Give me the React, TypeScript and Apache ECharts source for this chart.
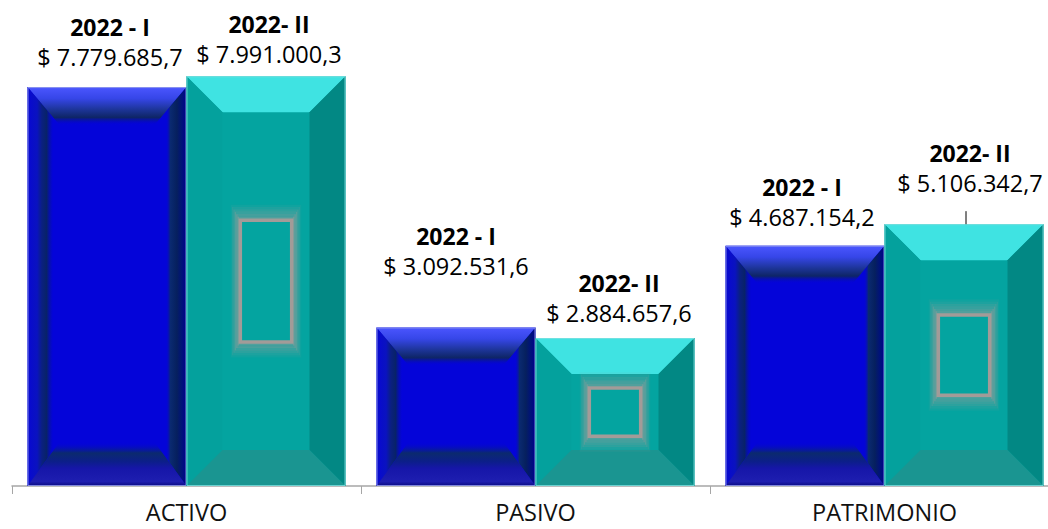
import React, { useEffect, useRef } from "react";
import * as echarts from "echarts";

const categories = ["ACTIVO", "PASIVO", "PATRIMONIO"];
const seriesNames = ["2022 - I", "2022- II"];
const values2022I = [7779685.7, 3092531.6, 4687154.2];
const values2022II = [7991000.3, 2884657.6, 5106342.7];
const yMax = 9000000;

// label placement tweaks (px), per series then per category
const labelDx = [[3, 0, -3], [3, 4, 6]];
const labelDy = [[-30, -61, -29], [-22, -25, -41]];
const leaderLine = [[false, false, false], [false, false, true]];

const FONT = '"Open Sans", "Noto Sans", sans-serif';

function fmt(v: number): string {
  const [intPart, dec] = v.toFixed(1).split(".");
  return "$ " + intPart.replace(/\B(?=(\d{3})+(?!\d))/g, ".") + "," + dec;
}

function lin(x2: number, y2: number, stops: [number, string][]) {
  return new echarts.graphic.LinearGradient(0, 0, x2, y2, stops.map(([offset, color]) => ({ offset, color })));
}

function bevelPolys(x0: number, y0: number, x1: number, y1: number, bS: number, bT: number, bB: number) {
  return {
    top: [[x0, y0], [x1, y0], [x1 - bS, y0 + bT], [x0 + bS, y0 + bT]],
    left: [[x0, y0], [x0 + bS, y0 + bT], [x0 + bS, y1 - bB], [x0, y1]],
    right: [[x1, y0], [x1, y1], [x1 - bS, y1 - bB], [x1 - bS, y0 + bT]],
    bottom: [[x0, y1], [x0 + bS, y1 - bB], [x1 - bS, y1 - bB], [x1, y1]],
  };
}

function blueBar(x0: number, y0: number, x1: number, y1: number): any[] {
  const p = bevelPolys(x0, y0, x1, y1, 32, 38, 44);
  const clear = "rgba(4,4,217,0)";
  return [
    { type: "rect", shape: { x: x0, y: y0, width: x1 - x0, height: y1 - y0 }, style: { fill: "#0404D9" } },
    {
      type: "polygon", shape: { points: p.top },
      style: { fill: lin(0, 1, [[0, "#4B56FF"], [0.3, "#3646E8"], [0.6, "#1C3496"], [0.8, "#0E2566"], [1, clear]]) },
    },
    {
      type: "polygon", shape: { points: p.left },
      style: { fill: lin(1, 0, [[0, "#0808D2"], [0.3, "#0A12C0"], [0.45, "#0A2080"], [0.6, "#082268"], [0.8, "rgba(4,4,217,0.4)"], [1, clear]]) },
    },
    {
      type: "polygon", shape: { points: p.right },
      style: { fill: lin(1, 0, [[0, clear], [0.35, clear], [0.5, "#0A2A70"], [0.7, "#06205E"], [0.85, "#00127A"], [1, "#00008C"]]) },
    },
    {
      type: "polygon", shape: { points: p.bottom },
      style: { fill: lin(0, 1, [[0, clear], [0.25, "#0B2A6E"], [0.45, "#0C1E8A"], [0.6, "#1616A8"], [0.9, "#1E1EB0"], [1, "#0A0A80"]]) },
    },
    {
      type: "rect", shape: { x: x0 + 0.5, y: y0 + 0.5, width: x1 - x0 - 1, height: y1 - y0 - 1 },
      style: { fill: "none", stroke: "rgba(150,160,235,0.85)", lineWidth: 1 },
    },
  ];
}

function tealBar(x0: number, y0: number, x1: number, y1: number): any[] {
  const b = 36;
  const p = bevelPolys(x0, y0, x1, y1, b, b, b);
  const els: any[] = [
    { type: "rect", shape: { x: x0, y: y0, width: x1 - x0, height: y1 - y0 }, style: { fill: "#04A4A0" } },
    { type: "polygon", shape: { points: p.top }, style: { fill: "#3FE3E2" } },
    { type: "polygon", shape: { points: p.left }, style: { fill: "#04A19D" } },
    { type: "polygon", shape: { points: p.right }, style: { fill: "#028884" } },
    { type: "polygon", shape: { points: p.bottom }, style: { fill: "#1A9591" } },
  ];
  const fx0 = x0 + b, fx1 = x1 - b, fy0 = y0 + b, fy1 = y1 - b;
  const fw = fx1 - fx0, fh = fy1 - fy0;
  const rw = 0.28 * fw + 27, rh = 0.28 * fh + 27;
  const cx = (fx0 + fx1) / 2, cy = (fy0 + fy1) / 2;
  for (let i = 6; i >= 1; i--) {
    const ex = i * 1.4, ey = i * 2.4;
    els.push({
      type: "rect",
      shape: { x: cx - rw / 2 - ex, y: cy - rh / 2 - ey, width: rw + 2 * ex, height: rh + 2 * ey },
      style: { fill: "none", stroke: `rgba(168,156,152,${(0.55 * (1 - i / 7)).toFixed(3)})`, lineWidth: 2.6 },
    });
  }
  els.push({
    type: "rect",
    shape: { x: cx - rw / 2, y: cy - rh / 2, width: rw, height: rh },
    style: { fill: "none", stroke: "#A39B98", lineWidth: 3.5 },
  });
  els.push({
    type: "rect", shape: { x: x0 + 0.5, y: y0 + 0.5, width: x1 - x0 - 1, height: y1 - y0 - 1 },
    style: { fill: "none", stroke: "rgba(130,225,225,0.8)", lineWidth: 1 },
  });
  return els;
}

function makeRenderItem(s: number) {
  return (params: any, api: any) => {
    const ci = api.value(0) as number;
    const v = api.value(1) as number;
    const top = api.coord([ci, v]);
    const base = api.coord([ci, 0]);
    const band = api.size([1, 0])[0];
    const bw = band * 0.4556;
    const x0 = s === 0 ? top[0] - bw : top[0];
    const x1 = x0 + bw;
    const y0 = top[1];
    const y1 = base[1];
    const children = s === 0 ? blueBar(x0, y0, x1, y1) : tealBar(x0, y0, x1, y1);
    const bcx = (x0 + x1) / 2;
    const cx = bcx + labelDx[s][ci];
    const vy = y0 + labelDy[s][ci];
    children.push({
      type: "text",
      style: { x: cx, y: vy, text: fmt(v), align: "center", verticalAlign: "middle", font: `23.5px ${FONT}`, fill: "#000" },
    });
    children.push({
      type: "text",
      style: { x: cx, y: vy - 30, text: seriesNames[s], align: "center", verticalAlign: "middle", font: `bold 23px ${FONT}`, fill: "#000" },
    });
    if (leaderLine[s][ci]) {
      children.push({
        type: "line",
        shape: { x1: bcx + 2, y1: vy + 28, x2: bcx + 2, y2: y0 },
        style: { stroke: "#000", lineWidth: 1 },
      });
    }
    return { type: "group", children };
  };
}

export default function App() {
  const ref = useRef<HTMLDivElement>(null);
  useEffect(() => {
    if (!ref.current) return;
    const chart = echarts.init(ref.current, undefined, { renderer: "svg" });
    chart.setOption({
      animation: false,
      backgroundColor: "#ffffff",
      grid: { left: 12, width: 1047, top: 24.5, bottom: 43, outerBoundsMode: "none", containLabel: false },
      xAxis: {
        type: "category",
        data: categories,
        axisLine: { lineStyle: { color: "#A6A6A6", width: 1.5 } },
        axisTick: { show: true, length: 8, lineStyle: { color: "#A6A6A6", width: 1 } },
        axisLabel: { color: "#111", fontSize: 23.5, fontFamily: FONT, margin: 14 },
      },
      yAxis: { type: "value", min: 0, max: yMax, show: false, splitLine: { show: false } },
      series: [
        {
          name: seriesNames[0],
          type: "custom",
          renderItem: makeRenderItem(0),
          encode: { x: 0, y: 1 },
          data: values2022I.map((v, i) => [i, v]),
          clip: false,
          z: 2,
        },
        {
          name: seriesNames[1],
          type: "custom",
          renderItem: makeRenderItem(1),
          encode: { x: 0, y: 1 },
          data: values2022II.map((v, i) => [i, v]),
          clip: false,
          z: 3,
        },
      ],
    });
    return () => chart.dispose();
  }, []);
  return <div ref={ref} style={{ position: "fixed", left: 0, top: 0, width: 1048, height: 529 }} />;
}
